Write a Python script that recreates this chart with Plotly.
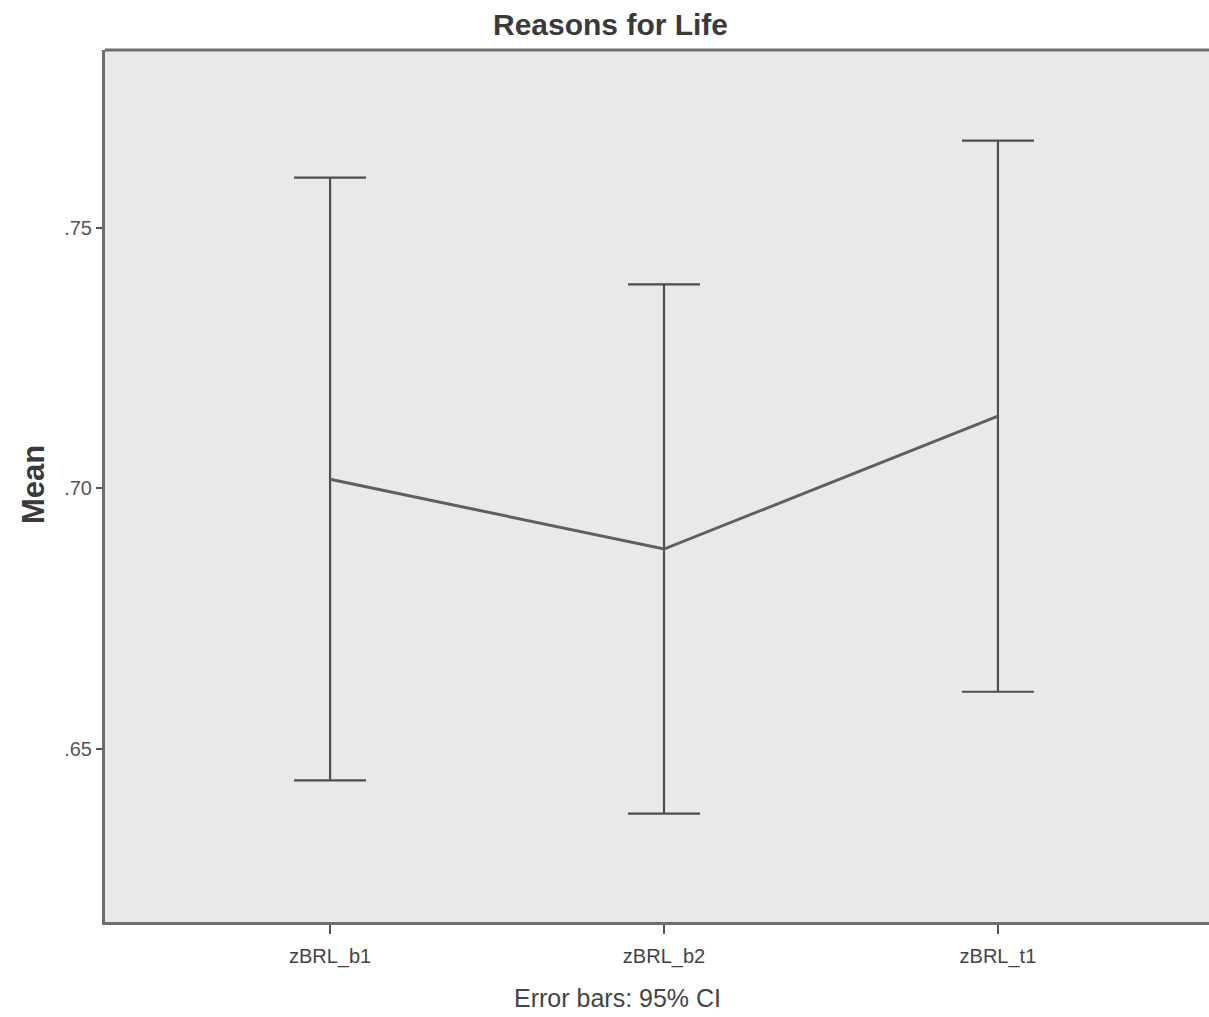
import plotly.graph_objects as go

# Means and 95% confidence limits for each measurement
categories = ["zBRL_b1", "zBRL_b2", "zBRL_t1"]
means = [0.7017, 0.6883, 0.7138]
ci_upper = [0.7596, 0.7391, 0.7667]
ci_lower = [0.6439, 0.6375, 0.6609]
ytick_vals = [0.65, 0.70, 0.75]
ytick_text = [".65", ".70", ".75"]

W, H = 1209, 1017
ML, MR, MT, MB = 105, 0, 50, 95

x_idx = list(range(len(categories)))
err_plus = [u - m for u, m in zip(ci_upper, means)]
err_minus = [m - l for m, l in zip(means, ci_lower)]

fig = go.Figure()

# Confidence interval whiskers
fig.add_trace(go.Scatter(
    x=x_idx, y=means, mode="markers",
    marker=dict(size=1, color="rgba(0,0,0,0)"),
    error_y=dict(type="data", symmetric=False, array=err_plus, arrayminus=err_minus,
                 color="#4f4f4f", thickness=2.2, width=36),
    showlegend=False, hoverinfo="skip",
))

# Line through the means
fig.add_trace(go.Scatter(
    x=x_idx, y=means, mode="lines",
    line=dict(color="#5f5f5f", width=3),
    showlegend=False,
))

fig.update_layout(
    width=W, height=H,
    margin=dict(l=ML, r=MR, t=MT, b=MB),
    paper_bgcolor="white",
    plot_bgcolor="#e9e9e9",
    font=dict(family="Liberation Sans, Arial, sans-serif", color="#444444"),
    xaxis=dict(
        range=[-0.674, 2.632],
        tickmode="array", tickvals=x_idx, ticktext=categories,
        ticks="outside", ticklen=9, tickwidth=1.5, tickcolor="#555555",
        ticklabelstandoff=5,
        showline=True, linecolor="#6e6e6e", linewidth=3,
        showgrid=False, zeroline=False,
        tickfont=dict(size=20, color="#444444"),
    ),
    yaxis=dict(
        range=[0.6167, 0.7841],
        tickmode="array", tickvals=ytick_vals, ticktext=ytick_text,
        ticks="outside", ticklen=6, tickwidth=1.5, tickcolor="#555555",
        showline=True, linecolor="#6e6e6e", linewidth=3,
        showgrid=False, zeroline=False,
        tickfont=dict(size=20, color="#555555"),
    ),
    shapes=[
        # top border of the plot frame
        dict(type="line", xref="paper", yref="paper", x0=0, x1=1, y0=1, y1=1,
             line=dict(color="#6e6e6e", width=3)),
    ],
)

def px_x(px):
    return (px - ML) / (W - ML - MR)

def px_y(py):
    return 1 - (py - MT) / (H - MT - MB)

fig.add_annotation(
    text="<b>Reasons for Life</b>", xref="paper", yref="paper",
    x=px_x(610), y=px_y(24), showarrow=False, xanchor="center", yanchor="middle",
    font=dict(size=30, color="#3a3a3a"),
)
fig.add_annotation(
    text="<b>Mean</b>", xref="paper", yref="paper", textangle=-90,
    x=px_x(33), y=px_y(485), showarrow=False, xanchor="center", yanchor="middle",
    font=dict(size=31, color="#3a3a3a"),
)
fig.add_annotation(
    text="Error bars: 95% CI", xref="paper", yref="paper",
    x=px_x(617), y=px_y(998), showarrow=False, xanchor="center", yanchor="middle",
    font=dict(size=25, color="#444444"),
)

fig.write_html("out.html")
